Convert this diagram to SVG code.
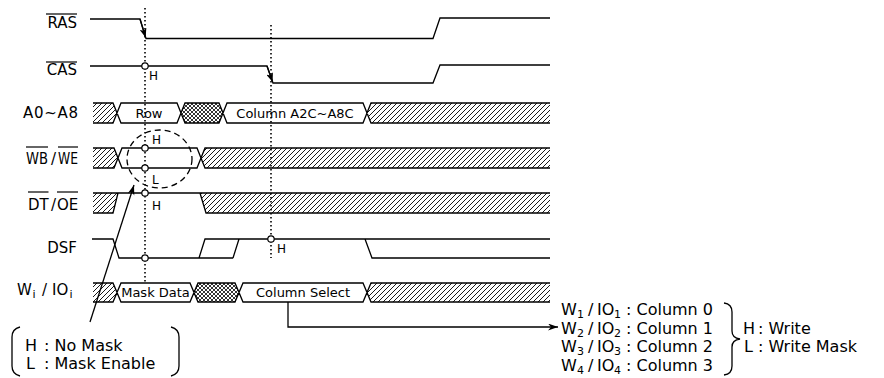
<svg xmlns="http://www.w3.org/2000/svg" width="884" height="378" viewBox="0 0 884 378">
<defs>
<pattern id="hatch" patternUnits="userSpaceOnUse" width="5" height="5">
<path d="M-1,1 L1,-1 M0,5 L5,0 M4,6 L6,4" stroke="#000" stroke-width="0.9"/>
</pattern>
<pattern id="cross" patternUnits="userSpaceOnUse" width="4" height="4">
<path d="M-1,1 L1,-1 M0,4 L4,0 M3,5 L5,3 M-1,3 L1,5 M0,0 L4,4 M3,-1 L5,1" stroke="#000" stroke-width="0.8"/>
</pattern>
<marker id="ah" markerWidth="11" markerHeight="8" refX="10" refY="3.5" orient="auto" markerUnits="userSpaceOnUse">
<path d="M0,0 L10,3.5 L0,7 L3,3.5 z" fill="#000"/>
</marker>
<marker id="ae" markerWidth="10" markerHeight="7" refX="9" refY="3.5" orient="auto" markerUnits="userSpaceOnUse">
<path d="M0,0 L9,3.5 L0,7 L2,3.5 z" fill="#000"/>
</marker>
</defs>
<style>
.w{fill:none;stroke:#000;stroke-width:1.3}
.ol{stroke:#000;stroke-width:1.2}
.dot{fill:none;stroke:#000;stroke-width:1.6;stroke-dasharray:1.5 2.5}
.c{fill:#fff;stroke:#000;stroke-width:1.2}
.h{fill:url(#hatch)}
.x{fill:url(#cross)}
text{font-family:"DejaVu Sans","Liberation Sans",sans-serif;fill:#000}
.lbl{font-size:15px}
.in{font-size:13px;text-anchor:middle}
.hl{font-size:12px}
.lg{font-size:16px}
.sub{font-size:11px}
</style>

<g id="sig-ras">
<text class="lbl" x="77" y="28" text-anchor="end">RAS</text>
<line class="ol" x1="46" y1="14" x2="77" y2="14"/>
<path class="w" d="M90,19 H140 L146,38.5 H433 L440,18 H550"/>
<path class="w" d="M140,19 L145.6,37.5" marker-end="url(#ae)"/>
</g>

<g id="sig-cas">
<text class="lbl" x="77" y="75" text-anchor="end">CAS</text>
<line class="ol" x1="46" y1="62" x2="77" y2="62"/>
<path class="w" d="M90,66 H267 L273,83 H433 L440,65 H550"/>
<path class="w" d="M267,66 L272.6,82" marker-end="url(#ae)"/>
</g>

<g id="sig-addr">
<text class="lbl" x="23" y="118" textLength="55" lengthAdjust="spacing">A0~A8</text>
<polygon class="h" points="93,103 113,103 117,113 113,123 93,123"/>
<polygon class="x" points="185,103 219,103 223,113 219,123 185,123 181,113"/>
<polygon class="h" points="371,103 550,103 550,123 371,123 367,113"/>
<path class="w" d="M93,103 H113 L121,123 H177 L185,103 H219 L227,123 H363 L371,103 H550 M93,123 H113 L121,103 H177 L185,123 H219 L227,103 H363 L371,123 H550"/>
<text class="in" x="149" y="118">Row</text>
<text class="in" x="295" y="118">Column A2C~A8C</text>
</g>

<g id="sig-wbwe">
<text class="lbl" x="26" y="164" textLength="22" lengthAdjust="spacingAndGlyphs">WB</text>
<text class="lbl" x="51" y="164">/</text>
<text class="lbl" x="58" y="164" textLength="20" lengthAdjust="spacingAndGlyphs">WE</text>
<line class="ol" x1="26" y1="147" x2="48" y2="147"/>
<line class="ol" x1="58" y1="147" x2="78" y2="147"/>
<polygon class="h" points="93,148 114,148 118,158 114,168 93,168"/>
<polygon class="h" points="205,148 550,148 550,168 205,168 201,158"/>
<path class="w" d="M93,148 H114 L122,168 H197 L205,148 H550 M93,168 H114 L122,148 H197 L205,168 H550"/>
</g>

<g id="sig-dtoe">
<text class="lbl" x="28" y="210">DT</text>
<text class="lbl" x="51" y="210">/</text>
<text class="lbl" x="57" y="210">OE</text>
<line class="ol" x1="28" y1="192" x2="48.5" y2="192"/>
<line class="ol" x1="57" y1="192" x2="78" y2="192"/>
<polygon class="h" points="93,193 118,193 113,213 93,213"/>
<polygon class="h" points="200,193 550,193 550,213 206,213"/>
<path class="w" d="M93,193 H550 M93,213 H113 L118,193 M200,193 L206,213 H550"/>
</g>

<g id="sig-dsf">
<text class="lbl" x="77" y="253" text-anchor="end">DSF</text>
<path class="w" d="M92,239 H113 L119,258 H233 M199,258 L205,239 H550 M233,258 L239,239 M365,239 L372,258 H550"/>
</g>

<g id="sig-wio">
<text class="lbl" x="17" y="295">W</text>
<text class="sub" x="32.5" y="298">i</text>
<text class="lbl" x="42" y="295">/</text>
<text class="lbl" x="52" y="295">IO</text>
<text class="sub" x="69.5" y="298">i</text>
<polygon class="h" points="93,283 113,283 117,292.5 113,302 93,302"/>
<polygon class="x" points="198,283 235,283 239,292.5 235,302 198,302 194,292.5"/>
<polygon class="h" points="371,283 550,283 550,302 371,302 367,292.5"/>
<path class="w" d="M93,283 H113 L121,302 H190 L198,283 H235 L243,302 H363 L371,283 H550 M93,302 H113 L121,283 H190 L198,302 H235 L243,283 H363 L371,302 H550"/>
<text class="in" x="155.5" y="297">Mask Data</text>
<text class="in" x="303" y="297">Column Select</text>
</g>

<g id="timing-marks">
<line class="dot" x1="145" y1="8" x2="145" y2="283"/>
<line class="dot" x1="271" y1="25" x2="271" y2="258"/>
<circle class="c" cx="145" cy="66" r="3.2"/>
<circle class="c" cx="145" cy="148" r="3.2"/>
<circle class="c" cx="145" cy="168" r="3.2"/>
<circle class="c" cx="145" cy="193" r="3.2"/>
<circle class="c" cx="145" cy="258" r="3.2"/>
<circle class="c" cx="271" cy="239" r="3.2"/>
<text class="hl" x="149" y="80">H</text>
<text class="hl" x="152" y="144">H</text>
<text class="hl" x="152" y="184">L</text>
<text class="hl" x="152" y="210">H</text>
<text class="hl" x="277" y="253">H</text>
<ellipse cx="159.5" cy="159" rx="32.5" ry="29" fill="none" stroke="#000" stroke-width="1.3" stroke-dasharray="6 4"/>
</g>

<g id="connectors">
<path class="w" d="M90,322 L134,185" marker-end="url(#ah)"/>
<path class="w" d="M288,302 V327 H558" marker-end="url(#ah)"/>
</g>

<g id="legend-mask">
<path class="w" d="M20,327 Q12,329 12,337 V366 Q12,374 20,376"/>
<path class="w" d="M171,327 Q179,329 179,337 V366 Q179,374 171,376"/>
<text class="lg" x="25" y="351">H</text>
<text class="lg" x="44" y="351">: No Mask</text>
<text class="lg" x="26" y="369">L</text>
<text class="lg" x="44" y="369">: Mask Enable</text>
</g>

<g id="legend-column">
<g id="row-w1">
<text class="lg" x="561" y="315">W</text><text class="sub" x="577" y="318">1</text>
<text class="lg" x="588" y="315">/</text>
<text class="lg" x="597" y="315">IO</text><text class="sub" x="614" y="318">1</text>
<text class="lg" x="626" y="315">: Column 0</text>
</g>
<g id="row-w2">
<text class="lg" x="561" y="333.5">W</text><text class="sub" x="577" y="336.5">2</text>
<text class="lg" x="588" y="333.5">/</text>
<text class="lg" x="597" y="333.5">IO</text><text class="sub" x="614" y="336.5">2</text>
<text class="lg" x="626" y="333.5">: Column 1</text>
</g>
<g id="row-w3">
<text class="lg" x="561" y="352">W</text><text class="sub" x="577" y="355">3</text>
<text class="lg" x="588" y="352">/</text>
<text class="lg" x="597" y="352">IO</text><text class="sub" x="614" y="355">3</text>
<text class="lg" x="626" y="352">: Column 2</text>
</g>
<g id="row-w4">
<text class="lg" x="561" y="370.5">W</text><text class="sub" x="577" y="373.5">4</text>
<text class="lg" x="588" y="370.5">/</text>
<text class="lg" x="597" y="370.5">IO</text><text class="sub" x="614" y="373.5">4</text>
<text class="lg" x="626" y="370.5">: Column 3</text>
</g>
<path class="w" d="M724,303 Q732,304 732,312 V331 Q732,338 740,339 Q732,340 732,347 V366 Q732,374 724,375"/>
<text class="lg" x="743" y="333.5">H</text>
<text class="lg" x="758" y="333.5">: Write</text>
<text class="lg" x="744" y="352">L</text>
<text class="lg" x="758" y="352">: Write Mask</text>
</g>
</svg>
